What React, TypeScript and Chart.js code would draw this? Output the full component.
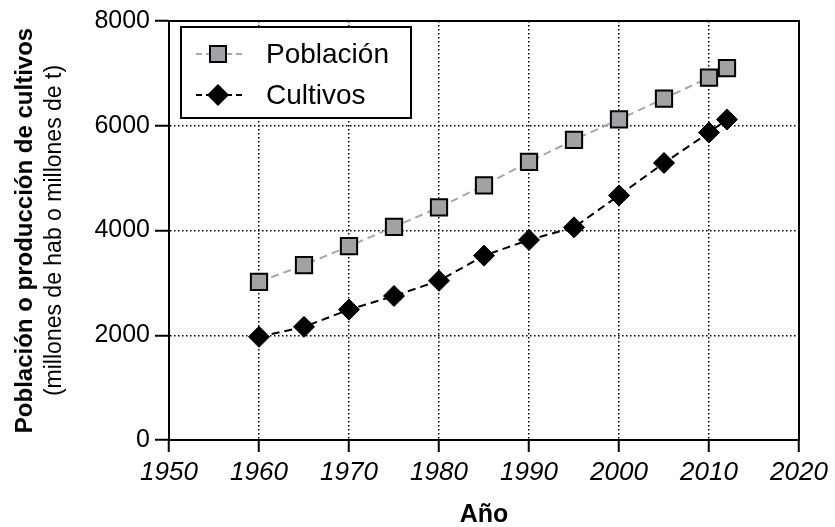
import React, { useEffect, useRef } from "react";
import { Chart, registerables } from "chart.js";

Chart.register(...registerables);

const years = [1960, 1965, 1970, 1975, 1980, 1985, 1990, 1995, 2000, 2005, 2010, 2012];
const poblacion = [3020, 3340, 3700, 4070, 4440, 4860, 5310, 5730, 6120, 6520, 6920, 7100];
const cultivos = [1970, 2160, 2490, 2750, 3040, 3520, 3820, 4060, 4670, 5290, 5870, 6120];
const seriesNames = ["Población", "Cultivos"];
const xTitle = "Año";
const yTitle1 = "Población o producción de cultivos";
const yTitle2 = "(millones de hab o millones de t)";

const FONT = '"Liberation Sans", Arial, Helvetica, sans-serif';
const POP_FILL = "#a2a2a6";
const POP_LINE = "#a8a8a8";

const decorPlugin = {
  id: "decor",
  afterDraw(chart: any) {
    const ctx = chart.ctx as CanvasRenderingContext2D;
    const a = chart.chartArea;
    ctx.save();
    // frame
    ctx.strokeStyle = "#000";
    ctx.lineWidth = 2;
    ctx.setLineDash([]);
    ctx.strokeRect(a.left, a.top, a.right - a.left, a.bottom - a.top);

    // axis titles
    ctx.fillStyle = "#000";
    ctx.textAlign = "center";
    ctx.textBaseline = "middle";
    ctx.font = `bold 25px ${FONT}`;
    ctx.fillText(xTitle, (a.left + a.right) / 2, 515);

    const cy = (a.top + a.bottom) / 2;
    ctx.save();
    ctx.translate(25, cy);
    ctx.rotate(-Math.PI / 2);
    ctx.font = `bold 24px ${FONT}`;
    ctx.fillText(yTitle1, 0, 0);
    ctx.restore();
    ctx.save();
    ctx.translate(55, cy);
    ctx.rotate(-Math.PI / 2);
    ctx.font = `23px ${FONT}`;
    ctx.fillText(yTitle2, 0, 0);
    ctx.restore();

    // legend
    const lx = 181, ly = 27, lw = 230, lh = 91;
    ctx.fillStyle = "#fff";
    ctx.fillRect(lx, ly, lw, lh);
    ctx.strokeStyle = "#000";
    ctx.lineWidth = 2;
    ctx.strokeRect(lx, ly, lw, lh);

    const rows = [54, 95];
    const mx = 218;
    ctx.lineWidth = 2;
    ctx.setLineDash([6, 4]);
    ctx.strokeStyle = POP_LINE;
    ctx.beginPath();
    ctx.moveTo(196, rows[0]);
    ctx.lineTo(242, rows[0]);
    ctx.stroke();
    ctx.strokeStyle = "#000";
    ctx.beginPath();
    ctx.moveTo(196, rows[1]);
    ctx.lineTo(242, rows[1]);
    ctx.stroke();
    ctx.setLineDash([]);
    // square
    ctx.fillStyle = POP_FILL;
    ctx.fillRect(mx - 8, rows[0] - 8, 16, 16);
    ctx.strokeStyle = "#000";
    ctx.lineWidth = 2;
    ctx.strokeRect(mx - 8, rows[0] - 8, 16, 16);
    // diamond
    ctx.fillStyle = "#000";
    ctx.beginPath();
    ctx.moveTo(mx - 11, rows[1]);
    ctx.lineTo(mx, rows[1] - 11);
    ctx.lineTo(mx + 11, rows[1]);
    ctx.lineTo(mx, rows[1] + 11);
    ctx.closePath();
    ctx.fill();

    ctx.fillStyle = "#000";
    ctx.textAlign = "left";
    ctx.textBaseline = "middle";
    ctx.font = `28px ${FONT}`;
    ctx.fillText(seriesNames[0], 266, rows[0] + 1);
    ctx.fillText(seriesNames[1], 266, rows[1] + 1);
    ctx.restore();
  },
};

export default function App() {
  const ref = useRef<HTMLCanvasElement>(null);
  useEffect(() => {
    document.body.style.margin = "0";
    const canvas = ref.current!;
    const chart = new Chart(canvas, {
      type: "line",
      data: {
        datasets: [
          {
            label: seriesNames[0],
            data: years.map((x, i) => ({ x, y: poblacion[i] })),
            borderColor: POP_LINE,
            borderWidth: 2,
            borderDash: [8, 5],
            pointStyle: "rect",
            pointRadius: 11.5,
            pointBackgroundColor: POP_FILL,
            pointBorderColor: "#000",
            pointBorderWidth: 2,
            tension: 0,
          },
          {
            label: seriesNames[1],
            data: years.map((x, i) => ({ x, y: cultivos[i] })),
            borderColor: "#000",
            borderWidth: 2,
            borderDash: [8, 5],
            pointStyle: "rectRot",
            pointRadius: 10.5,
            pointBackgroundColor: "#000",
            pointBorderColor: "#000",
            pointBorderWidth: 1,
            tension: 0,
          },
        ],
      },
      options: {
        responsive: false,
        animation: false,
        devicePixelRatio: 1,
        layout: { padding: { left: 0, right: 36, top: 21, bottom: 0 } },
        plugins: { legend: { display: false }, tooltip: { enabled: false } },
        scales: {
          x: {
            type: "linear",
            min: 1950,
            max: 2020,
            afterFit: (s: any) => {
              s.height = 87;
            },
            ticks: {
              stepSize: 10,
              color: "#000",
              padding: 5,
              maxRotation: 0,
              font: { family: FONT, size: 26, style: "italic" },
              callback: (v: any) => String(v),
            },
            grid: {
              color: (c: any) =>
                c.tick && (c.tick.value === 1950 || c.tick.value === 2020) ? "rgba(0,0,0,0)" : "#000",
              lineWidth: 1.5,
              tickColor: "#000",
              tickWidth: 2,
              tickLength: 12,
              tickBorderDash: [],
            },
            border: { display: true, color: "#000", width: 2, dash: [1.5, 2.5] },
          },
          y: {
            min: 0,
            max: 8000,
            afterFit: (s: any) => {
              s.width = 169;
            },
            ticks: {
              stepSize: 2000,
              color: "#000",
              padding: 5,
              font: { family: FONT, size: 25 },
              callback: (v: any) => String(v),
            },
            grid: {
              color: (c: any) =>
                c.tick && (c.tick.value === 0 || c.tick.value === 8000) ? "rgba(0,0,0,0)" : "#000",
              lineWidth: 1.5,
              tickColor: "#000",
              tickWidth: 2,
              tickLength: 14,
              tickBorderDash: [],
            },
            border: { display: true, color: "#000", width: 2, dash: [1.5, 2.5] },
          },
        },
      },
      plugins: [decorPlugin],
    });
    return () => chart.destroy();
  }, []);
  return <canvas ref={ref} width={835} height={527} style={{ display: "block" }} />;
}
